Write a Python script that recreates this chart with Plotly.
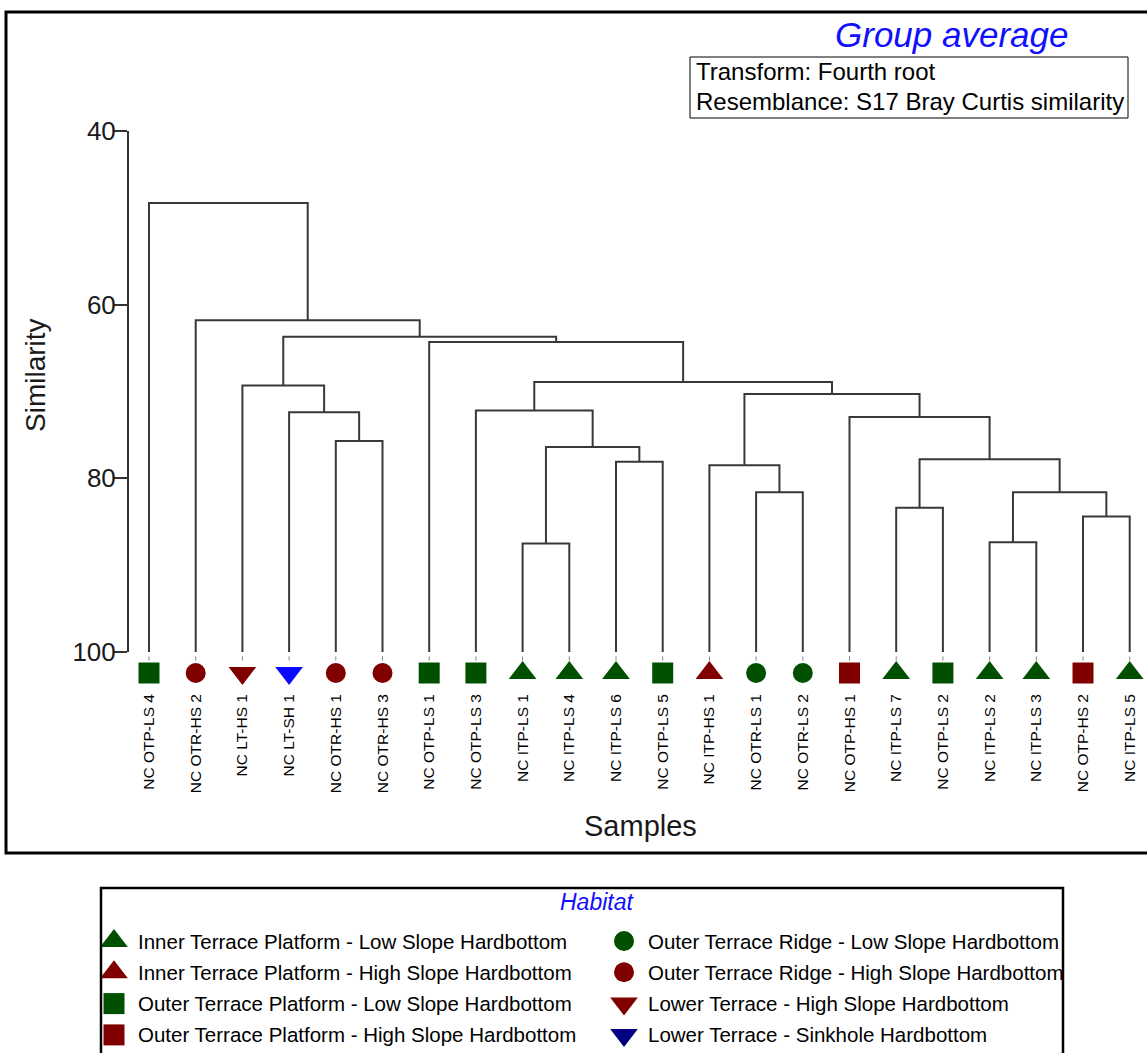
import plotly.graph_objects as go

# ---- data -------------------------------------------------------------
samples = [
    "NC OTP-LS 4", "NC OTR-HS 2", "NC LT-HS 1", "NC LT-SH 1", "NC OTR-HS 1",
    "NC OTR-HS 3", "NC OTP-LS 1", "NC OTP-LS 3", "NC ITP-LS 1", "NC ITP-LS 4",
    "NC ITP-LS 6", "NC OTP-LS 5", "NC ITP-HS 1", "NC OTR-LS 1", "NC OTR-LS 2",
    "NC OTP-HS 1", "NC ITP-LS 7", "NC OTP-LS 2", "NC ITP-LS 2", "NC ITP-LS 3",
    "NC OTP-HS 2", "NC ITP-LS 5",
]
sample_habitat = [
    "OTP-LS", "OTR-HS", "LT-HS", "LT-SH", "OTR-HS",
    "OTR-HS", "OTP-LS", "OTP-LS", "ITP-LS", "ITP-LS",
    "ITP-LS", "OTP-LS", "ITP-HS", "OTR-LS", "OTR-LS",
    "OTP-HS", "ITP-LS", "OTP-LS", "ITP-LS", "ITP-LS",
    "OTP-HS", "ITP-LS",
]

# group-average merges: (left member, right member, similarity)
# ids 0..21 are samples, each merge creates the next id (22, 23, ...)
merge_left = [4, 3, 2, 8, 10, 25, 7, 13, 12, 16, 18, 20, 32, 31, 15, 30, 28, 6, 24, 1, 0]
merge_right = [5, 22, 23, 9, 11, 26, 27, 14, 29, 17, 19, 21, 33, 34, 35, 36, 37, 38, 39, 40, 41]
merge_similarity = [75.7, 72.4, 69.3, 87.5, 78.1, 76.4, 72.2, 81.6, 78.5, 83.4, 87.35,
                    84.4, 81.6, 77.8, 72.95, 70.3, 68.9, 64.3, 63.7, 61.8, 48.3]

habitat_codes = ["ITP-LS", "ITP-HS", "OTP-LS", "OTP-HS", "OTR-LS", "OTR-HS", "LT-HS", "LT-SH"]
habitat_names = [
    "Inner Terrace Platform - Low Slope Hardbottom",
    "Inner Terrace Platform - High Slope Hardbottom",
    "Outer Terrace Platform - Low Slope Hardbottom",
    "Outer Terrace Platform - High Slope Hardbottom",
    "Outer Terrace Ridge - Low Slope Hardbottom",
    "Outer Terrace Ridge - High Slope Hardbottom",
    "Lower Terrace - High Slope Hardbottom",
    "Lower Terrace - Sinkhole Hardbottom",
]
habitat_symbols = ["triangle-up", "triangle-up", "square", "square",
                   "circle", "circle", "triangle-down", "triangle-down"]
habitat_colors = ["#005000", "#800000", "#005000", "#800000",
                  "#005000", "#800000", "#800000", "#0a0aff"]
legend_colors = ["#005000", "#800000", "#005000", "#800000",
                 "#005000", "#800000", "#800000", "#000080"]
symbol_sizes = {"triangle-up": 24, "triangle-down": 24, "square": 21, "circle": 20}

y_ticks = [40, 60, 80, 100]

# ---- geometry helpers ---------------------------------------------------
W, H = 1147, 1053
FONT = "Liberation Sans, Arial, sans-serif"


def px_x(p):
    return p / W


def px_y(p):
    return 1 - p / H


# ---- dendrogram links -----------------------------------------------------
pos = {i: float(i) for i in range(len(samples))}
height = {i: 100.0 for i in range(len(samples))}
link_x, link_y = [], []
for k, (a, b, s) in enumerate(zip(merge_left, merge_right, merge_similarity)):
    node = len(samples) + k
    link_x += [pos[a], pos[a], pos[b], pos[b], None]
    link_y += [height[a], s, s, height[b], None]
    pos[node] = (pos[a] + pos[b]) / 2
    height[node] = s

fig = go.Figure()
fig.add_trace(go.Scatter(
    x=link_x, y=link_y, mode="lines",
    line=dict(color="#383838", width=2),
    hoverinfo="skip", showlegend=False, xaxis="x", yaxis="y",
))

# strip under the leaves: small tick dots and habitat symbols
leaf_idx = list(range(len(samples)))
fig.add_trace(go.Scatter(
    x=leaf_idx, y=[658.5] * len(samples), mode="markers",
    marker=dict(symbol="line-ns-open", size=3, color="#888",
                line=dict(color="#888", width=1)),
    hoverinfo="skip", showlegend=False, xaxis="x4", yaxis="y4",
))
for code, sym, col in zip(habitat_codes, habitat_symbols, habitat_colors):
    idx = [i for i, h in enumerate(sample_habitat) if h == code]
    fig.add_trace(go.Scatter(
        x=idx, y=[673] * len(idx), mode="markers",
        marker=dict(symbol=sym, size=symbol_sizes[sym], color=col,
                    line=dict(width=0)),
        cliponaxis=False, hoverinfo="skip", showlegend=False,
        xaxis="x4", yaxis="y4",
    ))

# ---- habitat key ------------------------------------------------------------
key_col = [i // 4 for i in range(len(habitat_codes))]
key_row = [i % 4 for i in range(len(habitat_codes))]
for c, r, sym, col in zip(key_col, key_row, habitat_symbols, legend_colors):
    fig.add_trace(go.Scatter(
        x=[c], y=[r], mode="markers",
        marker=dict(symbol=sym, size=symbol_sizes[sym], color=col, line=dict(width=0)),
        cliponaxis=False, hoverinfo="skip", showlegend=False,
        xaxis="x2", yaxis="y2",
    ))

annotations = []
for c, r, name in zip(key_col, key_row, habitat_names):
    annotations.append(dict(
        x=c, y=r, xref="x2", yref="y2", text=name, showarrow=False,
        xanchor="left", yanchor="middle", xshift=22,
        font=dict(family=FONT, size=20.5, color="black"),
    ))

annotations += [
    dict(x=px_x(597), y=px_y(902), xref="paper", yref="paper", text="Habitat",
         showarrow=False, xanchor="center", yanchor="middle",
         font=dict(family=FONT, size=23, color="#1010ff", style="italic")),
    dict(x=px_x(951), y=px_y(34), xref="paper", yref="paper", text="Group average",
         showarrow=False, xanchor="center", yanchor="middle",
         font=dict(family=FONT, size=35, color="#1010ff", style="italic")),
    dict(x=px_x(694), y=px_y(72), xref="paper", yref="paper",
         text="Transform: Fourth root", showarrow=False,
         xanchor="left", yanchor="middle", font=dict(family=FONT, size=24, color="black")),
    dict(x=px_x(694), y=px_y(101), xref="paper", yref="paper",
         text="Resemblance: S17 Bray Curtis similarity", showarrow=False,
         xanchor="left", yanchor="middle", font=dict(family=FONT, size=24, color="black")),
    dict(x=px_x(640), y=px_y(826), xref="paper", yref="paper", text="Samples",
         showarrow=False, xanchor="center", yanchor="middle",
         font=dict(family=FONT, size=29, color="#1a1a1a")),
    dict(x=px_x(35), y=px_y(375), xref="paper", yref="paper", text="Similarity",
         showarrow=False, xanchor="center", yanchor="middle", textangle=-90,
         font=dict(family=FONT, size=28, color="#1a1a1a")),
]

shapes = [
    # outer frame of the dendrogram panel
    dict(type="rect", xref="paper", yref="paper",
         x0=px_x(6), x1=px_x(1152), y0=px_y(853), y1=px_y(12),
         line=dict(color="black", width=3)),
    # transform / resemblance box
    dict(type="rect", xref="paper", yref="paper",
         x0=px_x(690), x1=px_x(1128), y0=px_y(118), y1=px_y(57),
         line=dict(color="black", width=1)),
    # key frame
    dict(type="rect", xref="paper", yref="paper",
         x0=px_x(101), x1=px_x(1063), y0=px_y(1060), y1=px_y(888),
         line=dict(color="black", width=2.5)),
]

leaf_px = 46.7
x_range = [-20 / leaf_px, (W - 149) / leaf_px]
fig.update_layout(
    width=W, height=H,
    margin=dict(l=0, r=0, t=0, b=0, pad=0, autoexpand=False),
    paper_bgcolor="white", plot_bgcolor="rgba(0,0,0,0)",
    showlegend=False,
    font=dict(family=FONT, color="black"),
    annotations=annotations,
    shapes=shapes,
    xaxis=dict(
        domain=[px_x(129), 1.0], range=x_range,
        showticklabels=False, ticks="",
        showline=False, showgrid=False, zeroline=False, anchor="y",
        automargin=False,
    ),
    yaxis=dict(
        domain=[px_y(652), px_y(131)],
        range=[100, 40],
        tickmode="array", tickvals=y_ticks,
        ticks="outside", ticklen=14, tickwidth=1.5, tickcolor="#333",
        ticklabelstandoff=-8,
        tickfont=dict(family=FONT, size=26, color="#1a1a1a"),
        showline=True, linewidth=2, linecolor="#333",
        showgrid=False, zeroline=False, anchor="x", automargin=False,
    ),
    yaxis3=dict(
        overlaying="y", anchor="x", side="left",
        range=[100, 40], tickmode="array", tickvals=y_ticks,
        ticks="inside", ticklen=14, tickwidth=1.5, tickcolor="#333",
        showticklabels=False, showline=False, showgrid=False, zeroline=False,
        automargin=False,
    ),
    # leaf strip: symbols plus rotated sample names
    xaxis4=dict(
        domain=[px_x(129), 1.0], range=x_range,
        tickmode="array", tickvals=leaf_idx, ticktext=samples,
        tickangle=-90, ticks="", ticklabelstandoff=0,
        tickfont=dict(family=FONT, size=15.5, color="black"),
        showline=False, showgrid=False, zeroline=False, anchor="y4",
        automargin=False, fixedrange=True,
    ),
    yaxis4=dict(
        domain=[px_y(690), px_y(652)], range=[690, 652],
        visible=False, fixedrange=True, anchor="x4", automargin=False,
    ),
    xaxis2=dict(
        domain=[px_x(101), px_x(1063)],
        range=[-13 / 510, 949 / 510],
        visible=False, fixedrange=True, anchor="y2",
    ),
    yaxis2=dict(
        domain=[0, px_y(888)],
        range=[(1053 - 941) / 31.3, -(941 - 888) / 31.3],
        visible=False, fixedrange=True, anchor="x2",
    ),
)

fig.write_html("out.html")
